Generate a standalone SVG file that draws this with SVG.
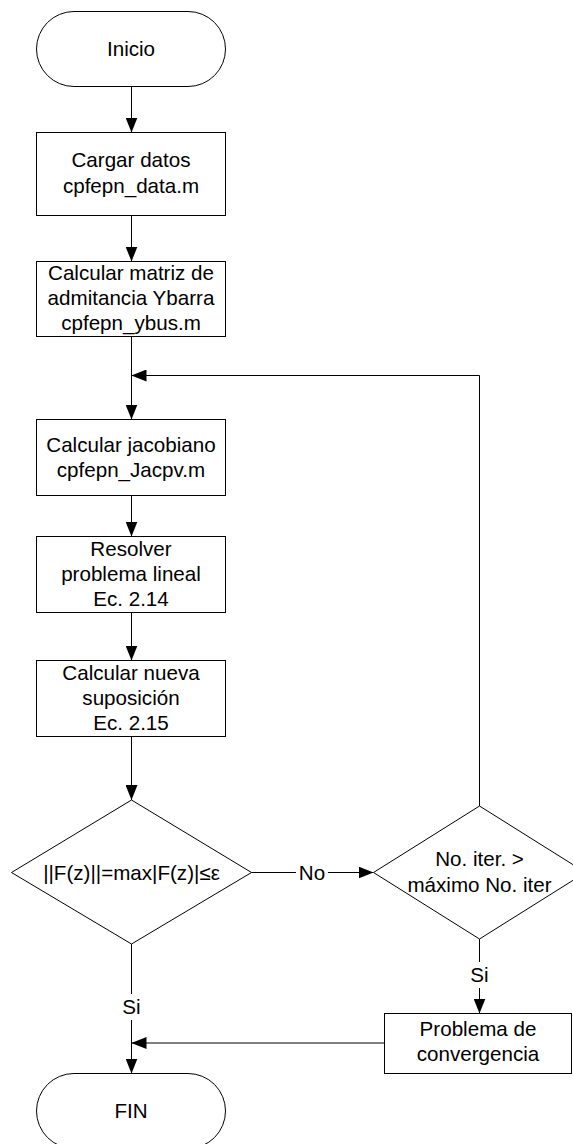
<svg xmlns="http://www.w3.org/2000/svg" width="573" height="1144" viewBox="0 0 573 1144">
<style>
.s{fill:#fff;stroke:#000;stroke-width:1}
.c{fill:none;stroke:#000;stroke-width:1}
text{font-family:"Liberation Sans",Arial,sans-serif;font-size:20.6px;fill:#000;text-anchor:middle}
.bg{fill:#fff;stroke:none}
</style>
<defs>
<marker id="ah" markerUnits="userSpaceOnUse" markerWidth="15" markerHeight="12" refX="15" refY="6" orient="auto">
<path d="M0,0 L15,6 L0,12 Z" fill="#000"/>
</marker>
</defs>
<g id="connectors">
<path class="c" d="M131.5,86.5 V132.5" marker-end="url(#ah)"/>
<path class="c" d="M131.5,215.5 V261.5" marker-end="url(#ah)"/>
<path class="c" d="M131.5,336.5 V419.5" marker-end="url(#ah)"/>
<path class="c" d="M131.5,495.5 V536.5" marker-end="url(#ah)"/>
<path class="c" d="M131.5,612.5 V660.5" marker-end="url(#ah)"/>
<path class="c" d="M131.5,736.5 V800" marker-end="url(#ah)"/>
<path class="c" d="M251.5,872.5 H373.5" marker-end="url(#ah)"/>
<path class="c" d="M479.5,806 V375.5 H131.5" marker-end="url(#ah)"/>
<path class="c" d="M479.5,939 V1013.5" marker-end="url(#ah)"/>
<path class="c" d="M384.5,1043 H131.5" marker-end="url(#ah)"/>
<path class="c" d="M131.5,944 V1073.5" marker-end="url(#ah)"/>
<rect class="bg" x="296" y="860" width="32" height="26"/>
<text x="312" y="879.5">No</text>
<rect class="bg" x="467" y="962" width="25" height="26"/>
<text x="479.5" y="982">Si</text>
<rect class="bg" x="119" y="994" width="25" height="26"/>
<text x="131.5" y="1014">Si</text>
</g>
<g id="inicio">
<rect class="s" x="36.5" y="11.5" width="189" height="75" rx="37.5" ry="37.5"/>
<text x="131" y="55.5">Inicio</text>
</g>
<g id="cargar">
<rect class="s" x="36.5" y="132.5" width="189" height="83"/>
<text x="131" y="167">Cargar datos</text>
<text x="131" y="192.5">cpfepn_data.m</text>
</g>
<g id="ybus">
<rect class="s" x="36.5" y="261.5" width="189" height="75"/>
<text x="131" y="279.5">Calcular matriz de</text>
<text x="131" y="304.5">admitancia Ybarra</text>
<text x="131" y="329.5">cpfepn_ybus.m</text>
</g>
<g id="jacobiano">
<rect class="s" x="36.5" y="419.5" width="189" height="76"/>
<text x="131" y="451.5">Calcular jacobiano</text>
<text x="131" y="476.5">cpfepn_Jacpv.m</text>
</g>
<g id="resolver">
<rect class="s" x="36.5" y="536.5" width="189" height="76"/>
<text x="131" y="556">Resolver</text>
<text x="131" y="581">problema lineal</text>
<text x="131" y="606">Ec. 2.14</text>
</g>
<g id="nueva">
<rect class="s" x="36.5" y="660.5" width="189" height="76"/>
<text x="131" y="679.5">Calcular nueva</text>
<text x="131" y="704.5">suposición</text>
<text x="131" y="729.5">Ec. 2.15</text>
</g>
<g id="decision1">
<polygon class="s" points="131.5,800 251.5,872.5 131.5,944 11.5,872.5"/>
<text x="131.5" y="879.5">||F(z)||=max|F(z)|≤ε</text>
</g>
<g id="decision2">
<polygon class="s" points="479.5,806 585.5,872.5 479.5,939 373.5,872.5"/>
<text x="479.5" y="866">No. iter. &gt;</text>
<text x="479.5" y="892">máximo No. iter</text>
</g>
<g id="problema">
<rect class="s" x="384.5" y="1013.5" width="187" height="60"/>
<text x="478" y="1036">Problema de</text>
<text x="478" y="1061">convergencia</text>
</g>
<g id="fin">
<rect class="s" x="36.5" y="1073.5" width="189" height="75" rx="37.5" ry="37.5"/>
<text x="131" y="1117.5">FIN</text>
</g>
</svg>
